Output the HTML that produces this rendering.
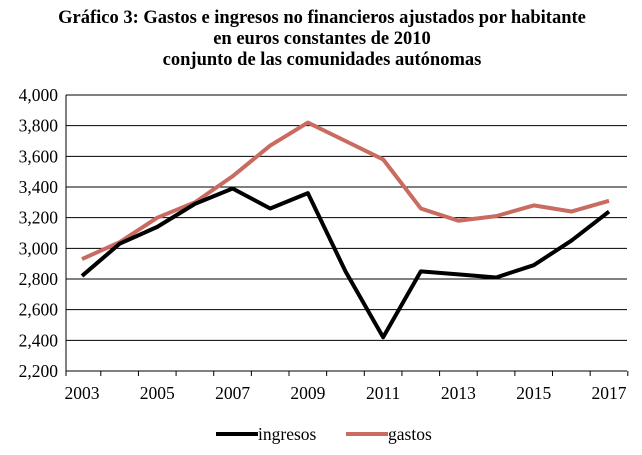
<!DOCTYPE html>
<html><head><meta charset="utf-8"><style>
body{margin:0;background:#fff;}
svg{display:block;font-family:"Liberation Serif",serif;}
</style></head><body>
<svg id="chart" width="642" height="455">
<g font-weight="bold" font-size="18.5" text-anchor="middle" fill="#000">
<text x="322" y="23">Gráfico 3: Gastos e ingresos no financieros ajustados por habitante</text>
<text x="322" y="44">en euros constantes de 2010</text>
<text x="322" y="65">conjunto de las comunidades autónomas</text>
</g>
<g id="grid"></g><g id="axes"></g><g id="lines"></g>
<g font-size="17.5">
<line x1="216" y1="434" x2="258" y2="434" stroke="#000" stroke-width="4"/>
<text x="258" y="440">ingresos</text>
<line x1="346" y1="434" x2="388" y2="434" stroke="#c96b61" stroke-width="4"/>
<text x="388" y="440">gastos</text>
</g>
</svg>
<script>
const years=[2003,2004,2005,2006,2007,2008,2009,2010,2011,2012,2013,2014,2015,2016,2017];
const ingresos=[2820,3030,3140,3290,3390,3260,3360,2850,2420,2850,2830,2810,2890,3050,3240];
const gastos=[2930,3040,3200,3300,3470,3670,3820,3700,3580,3260,3180,3210,3280,3240,3310];
const yTicks=[2200,2400,2600,2800,3000,3200,3400,3600,3800,4000];
const xLabels=[2003,2005,2007,2009,2011,2013,2015,2017];
const NS="http://www.w3.org/2000/svg";
const L=66,R=627,T=95,B=371;
const x=v=>82+(v-2003)*(609-82)/14;
const y=v=>B-(v-2200)/(4000-2200)*(B-T);
function mk(p,t,a){const e=document.createElementNS(NS,t);for(const k in a)e.setAttribute(k,a[k]);document.getElementById(p).appendChild(e);return e;}
yTicks.forEach(v=>{
 const g=mk('grid','line',{x1:L,x2:R,y1:y(v),y2:y(v),stroke:'#000','stroke-width':1});
 
 
 const t=mk('axes','text',{x:58,y:y(v)+6,'text-anchor':'end','font-size':17.5});
 t.textContent=v.toLocaleString('en-US');
 
 
});
const ax=mk('axes','line',{x1:L,x2:L,y1:T,y2:B,stroke:'#000'});


years.forEach((yr,i)=>{const tk=mk('axes','line',{x1:x(yr)+18.8,x2:x(yr)+18.8,y1:B,y2:B+5,stroke:'#000'});
 
 });
const tk0=mk('axes','line',{x1:L,x2:L,y1:B,y2:B+5,stroke:'#000'});


xLabels.forEach(yr=>{const t=mk('axes','text',{x:x(yr),y:399,'text-anchor':'middle','font-size':17.5});
 t.textContent=yr;
 
 });
function line(d,c,n){const p=mk('lines','polyline',{points:d.map((v,i)=>x(years[i])+','+y(v)).join(' '),fill:'none',stroke:c,'stroke-width':4,'stroke-linejoin':'round'});
 
 }
line(gastos,'#c96b61','gastos-line');
line(ingresos,'#000','ingresos-line');
</script>
</body></html>
